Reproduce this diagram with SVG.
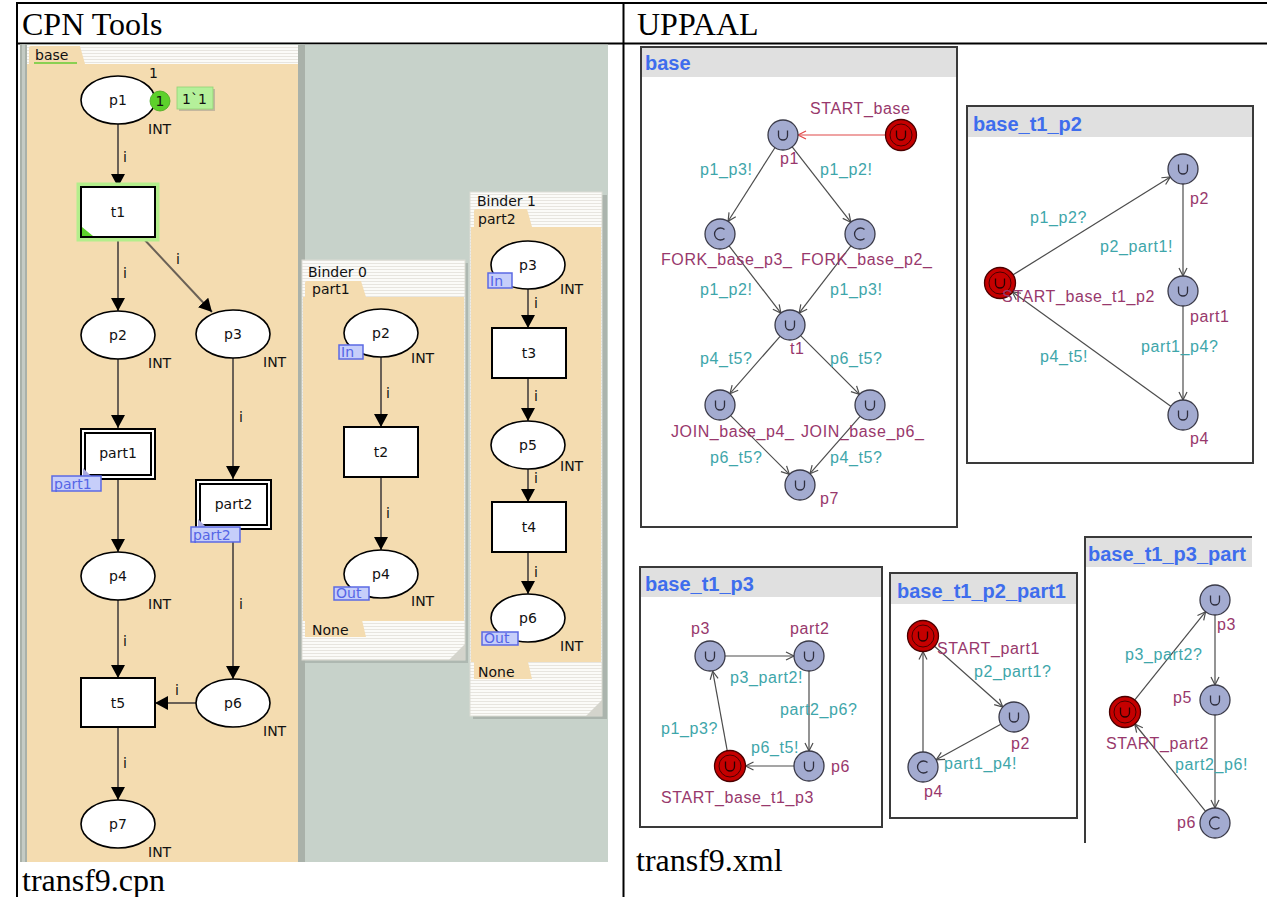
<svg xmlns="http://www.w3.org/2000/svg" width="1267" height="897" viewBox="0 0 1267 897">
<defs>
  <style>
    .rule { stroke:#000; stroke-width:2; fill:none }
    .hdr { font-family:"Liberation Serif","Times New Roman",serif; font-size:32px; fill:#000 }
    .cpn { font-family:"DejaVu Sans",Verdana,sans-serif; font-size:14px; fill:#111 }
    .mid { text-anchor:middle }
    .place { fill:#fff; stroke:#000; stroke-width:1.6 }
    .trans { fill:#fff; stroke:#000; stroke-width:2 }
    .arc { fill:none; stroke:#6a6156; stroke-width:2; marker-end:url(#cpnHead) }
    .tag { fill:#c6cefa; stroke:#5b69e3; stroke-width:1.5 }
    .tagtxt { font-family:"DejaVu Sans",Verdana,sans-serif; font-size:14px; fill:#5565e6 }
    .beige { fill:#f4dcb0 }
    .strip { fill:url(#stripes) }
    .loc { fill:#a3abd0; stroke:#3a3a48; stroke-width:1.3 }
    .init { fill:#c50000; stroke:#4a0000; stroke-width:1.3 }
    .ring { fill:none; stroke:#4a0000; stroke-width:1 }
    .glyph { fill:none; stroke:#2e2e3e; stroke-width:1.3 }
    .edge { fill:none; stroke:#4c4c4c; stroke-width:1.2; marker-end:url(#open) }
    .ux { font-family:"Liberation Sans",Arial,sans-serif; font-size:16px; letter-spacing:0.6px }
    .name { fill:#98386c }
    .sync { fill:#3ea6aa }
    .panel { fill:#fff; stroke:#3a3a3a; stroke-width:2 }
    .bar { fill:#e0e0e0 }
    .ptitle { font-family:"Liberation Sans",Arial,sans-serif; font-weight:bold; font-size:20px; fill:#3e6ded }
  </style>
  <pattern id="stripes" width="6" height="3" patternUnits="userSpaceOnUse">
    <rect width="6" height="3" fill="#fbfbf8"/>
    <rect y="2" width="6" height="1" fill="#e7e5df"/>
  </pattern>
  <marker id="cpnHead" viewBox="0 0 13 14" refX="13" refY="7" markerWidth="13" markerHeight="14" markerUnits="userSpaceOnUse" orient="auto">
    <path d="M0,0 L13,7 L0,14 Z" fill="#000"/>
  </marker>
  <marker id="open" viewBox="-10 -6 12 12" refX="0" refY="0" markerWidth="12" markerHeight="12" markerUnits="userSpaceOnUse" orient="auto">
    <path d="M-8,-4 L0,0 L-8,4" fill="none" stroke="#4c4c4c" stroke-width="1.2"/>
  </marker>
  <marker id="openRed" viewBox="-10 -6 12 12" refX="0" refY="0" markerWidth="12" markerHeight="12" markerUnits="userSpaceOnUse" orient="auto">
    <path d="M-8,-4 L0,0 L-8,4" fill="none" stroke="#e04848" stroke-width="1.2"/>
  </marker>
  <g id="locU">
    <circle r="15" class="loc"/>
    <path class="glyph" d="M-4.5,-4.5 V0.5 A4.5,4.5 0 0 0 4.5,0.5 V-4.5"/>
  </g>
  <g id="locC">
    <circle r="15" class="loc"/>
    <path class="glyph" d="M4.5,-4.5 A6,6 0 1 0 4.5,4.5"/>
  </g>
  <g id="locInit">
    <circle r="15.5" class="init"/>
    <circle r="11" class="ring"/>
    <path class="glyph" style="stroke:#2a0000" d="M-4.5,-4.5 V0.5 A4.5,4.5 0 0 0 4.5,0.5 V-4.5"/>
  </g>
  <clipPath id="clipLast">
    <rect x="1080" y="530" width="172" height="313"/>
  </clipPath>
</defs>

<rect width="1267" height="897" fill="#fff"/>

<!-- table -->
<g id="table">
  <line class="rule" x1="16" y1="3" x2="1267" y2="3"/>
  <line class="rule" x1="16" y1="43.5" x2="1267" y2="43.5"/>
  <line class="rule" x1="17" y1="2" x2="17" y2="897"/>
  <line class="rule" x1="623.5" y1="2" x2="623.5" y2="897"/>
  <text class="hdr" x="22" y="35">CPN Tools</text>
  <text class="hdr" x="637" y="35">UPPAAL</text>
  <text class="hdr" x="22" y="891">transf9.cpn</text>
  <text class="hdr" x="636" y="871">transf9.xml</text>
</g>

<!-- CPN Tools workspace -->
<g id="cpn-workspace">
  <rect x="20" y="44.5" width="588" height="817.5" fill="#c7d2ca"/>
  <rect x="20" y="44.5" width="285" height="817.5" fill="#a9b1a9"/>
  <rect x="22" y="44.5" width="3" height="817.5" fill="#c4cbc4"/>
  <rect x="27" y="45" width="271" height="817" class="beige"/>
  <rect x="27" y="45" width="271" height="19" class="strip"/>
  <path d="M29,64 V48 Q29,46 31,46 H80 L85,64 Z" class="beige"/>
  <line x1="34" y1="63" x2="77" y2="63" stroke="#66cc33" stroke-width="1.5"/>
  <text x="35" y="60" class="cpn">base</text>
</g>

<g id="binder0">
  <rect x="305" y="263" width="163" height="400" fill="#000" opacity="0.12"/>
  <rect x="302" y="260" width="163" height="400" class="strip" stroke="#dcdcd4" stroke-width="1"/>
  <rect x="303" y="297" width="161" height="324" class="beige"/>
  <path d="M305,297 V283 Q305,281 307,281 H361 L366,297 Z" class="beige"/>
  <path d="M305,620 V637 H366 L362,620 Z" class="beige"/>
  <polygon points="465,644 465,660 449,660" fill="#d4d4cc"/>
  <text x="308" y="277" class="cpn">Binder 0</text>
  <text x="312" y="294" class="cpn">part1</text>
  <text x="312" y="635" class="cpn">None</text>
</g>

<g id="binder1">
  <rect x="473" y="195" width="134" height="524" fill="#000" opacity="0.14"/>
  <rect x="470" y="192" width="132" height="524" class="strip" stroke="#dcdcd4" stroke-width="1"/>
  <rect x="471" y="227" width="130" height="435" class="beige"/>
  <path d="M474,227 V211 Q474,209 476,209 H527 L532,227 Z" class="beige"/>
  <path d="M474,662 V679 H532 L528,662 Z" class="beige"/>
  <polygon points="602,700 602,716 586,716" fill="#d4d4cc"/>
  <text x="477" y="206" class="cpn">Binder 1</text>
  <text x="478" y="224" class="cpn">part2</text>
  <text x="478" y="677" class="cpn">None</text>
</g>

<!-- UPPAAL template panels -->
<g id="tpl-base">
  <rect x="641" y="47" width="316" height="480" class="panel"/>
  <rect x="642" y="48" width="314" height="29" class="bar"/>
  <text x="645" y="70" class="ptitle">base</text>
</g>
<g id="tpl-base_t1_p2">
  <rect x="967" y="106" width="286" height="357" class="panel"/>
  <rect x="968" y="107" width="284" height="30" class="bar"/>
  <text x="973" y="131" class="ptitle">base_t1_p2</text>
</g>
<g id="tpl-base_t1_p3">
  <rect x="640" y="567" width="242" height="260" class="panel"/>
  <rect x="641" y="568" width="240" height="29" class="bar"/>
  <text x="645" y="591" class="ptitle">base_t1_p3</text>
</g>
<g id="tpl-base_t1_p2_part1">
  <rect x="890" y="573" width="187" height="245" class="panel"/>
  <rect x="891" y="574" width="185" height="30" class="bar"/>
  <text x="897" y="598" class="ptitle">base_t1_p2_part1</text>
</g>
<g id="tpl-base_t1_p3_part2" clip-path="url(#clipLast)">
  <rect x="1085" y="537" width="200" height="340" class="panel"/>
  <rect x="1086" y="538" width="198" height="29" class="bar"/>
  <text x="1088" y="561" class="ptitle">base_t1_p3_part</text>
</g>

<!-- arcs and edges -->
<g id="connectors">
  <!-- CPN page base -->
  <path class="arc" d="M118,124 V187"/>
  <path class="arc" d="M118,237 V311"/>
  <path class="arc" d="M142,237 L212,312"/>
  <path class="arc" d="M118,359 V428"/>
  <path class="arc" d="M233,358 V479"/>
  <path class="arc" d="M118,479 V552"/>
  <path class="arc" d="M233,529 V679"/>
  <path class="arc" d="M118,600 V678"/>
  <path class="arc" d="M196,703 H155"/>
  <path class="arc" d="M118,727 V800"/>
  <g class="cpn">
    <text x="123" y="162">i</text>
    <text x="123" y="278">i</text>
    <text x="176" y="264">i</text>
    <text x="239" y="422">i</text>
    <text x="123" y="646">i</text>
    <text x="239" y="609">i</text>
    <text x="175" y="695">i</text>
    <text x="123" y="768">i</text>
  </g>
  <!-- CPN page part1 -->
  <path class="arc" d="M381,357 V427"/>
  <path class="arc" d="M381,477 V550"/>
  <g class="cpn">
    <text x="386" y="398">i</text>
    <text x="386" y="518">i</text>
  </g>
  <!-- CPN page part2 -->
  <path class="arc" d="M528,289 V328"/>
  <path class="arc" d="M528,378 V421"/>
  <path class="arc" d="M528,469 V502"/>
  <path class="arc" d="M528,552 V594"/>
  <g class="cpn">
    <text x="534" y="308">i</text>
    <text x="534" y="401">i</text>
    <text x="534" y="483">i</text>
    <text x="534" y="577">i</text>
  </g>

  <!-- template base -->
  <path d="M885.5,135 H798" fill="none" stroke="#e04848" stroke-width="1.2" marker-end="url(#openRed)"/>
  <path class="edge" d="M774.9,147.7 L728.1,221.3"/>
  <path class="edge" d="M792.2,146.8 L850.8,222.2"/>
  <path class="edge" d="M729.1,245.9 L780.9,313.1"/>
  <path class="edge" d="M850.9,245.9 L799.1,313.1"/>
  <path class="edge" d="M780.1,336.3 L729.9,393.7"/>
  <path class="edge" d="M800.6,335.6 L859.4,394.4"/>
  <path class="edge" d="M730.6,415.6 L789.4,474.4"/>
  <path class="edge" d="M860.1,416.3 L809.9,473.7"/>
  <g class="ux sync">
    <text x="700" y="175">p1_p3!</text>
    <text x="820" y="175">p1_p2!</text>
    <text x="700" y="295">p1_p2!</text>
    <text x="830" y="295">p1_p3!</text>
    <text x="700" y="364">p4_t5?</text>
    <text x="830" y="364">p6_t5?</text>
    <text x="710" y="463">p6_t5?</text>
    <text x="830" y="463">p4_t5?</text>
  </g>

  <!-- template base_t1_p2 -->
  <path class="edge" d="M1012.7,275.1 L1170.3,176.9"/>
  <path class="edge" d="M1183,184 V276"/>
  <path class="edge" d="M1183,306 V400"/>
  <path class="edge" d="M1170.8,406.2 L1012.2,291.8"/>
  <g class="ux sync">
    <text x="1030" y="223">p1_p2?</text>
    <text x="1100" y="252">p2_part1!</text>
    <text x="1141" y="352">part1_p4?</text>
    <text x="1040" y="362">p4_t5!</text>
  </g>

  <!-- template base_t1_p3 -->
  <path class="edge" d="M725,656 H794"/>
  <path class="edge" d="M809,671 V751"/>
  <path class="edge" d="M794,766 H745.5"/>
  <path class="edge" d="M727.3,751.2 L712.7,671.2"/>
  <g class="ux sync">
    <text x="730" y="683">p3_part2!</text>
    <text x="780" y="715">part2_p6?</text>
    <text x="661" y="734">p1_p3?</text>
    <text x="751" y="753">p6_t5!</text>
  </g>

  <!-- template base_t1_p2_part1 -->
  <path class="edge" d="M934.2,646 L1002.8,707"/>
  <path class="edge" d="M1000.8,724.2 L936.2,759.8"/>
  <path class="edge" d="M923,752 V651.5"/>
  <g class="ux sync">
    <text x="974" y="677">p2_part1?</text>
    <text x="944" y="769">part1_p4!</text>
  </g>

  <!-- template base_t1_p3_part2 -->
  <path class="edge" d="M1134.4,700.3 L1205.6,611.7"/>
  <path class="edge" d="M1215,615 V685"/>
  <path class="edge" d="M1215,715 V808"/>
  <path class="edge" d="M1205.6,811.3 L1134.7,724"/>
  <g class="ux sync">
    <text x="1125" y="660">p3_part2?</text>
    <text x="1175" y="770">part2_p6!</text>
  </g>
</g>

<!-- CPN page base: places and transitions -->
<g id="base-p1">
  <ellipse cx="118" cy="100" rx="37" ry="24" class="place"/>
  <text x="118" y="105" class="cpn mid">p1</text>
  <text x="149" y="78" class="cpn">1</text>
  <text x="148" y="134" class="cpn">INT</text>
  <circle cx="160" cy="101" r="10" fill="#5dd12b" stroke="#46a81e" stroke-width="0.8"/>
  <text x="160" y="106" class="cpn mid">1</text>
  <rect x="179" y="89" width="36" height="22" fill="#8a8a8a" opacity="0.45"/>
  <rect x="177" y="87" width="36" height="22" fill="#b5f09a" stroke="#92d274" stroke-width="0.8"/>
  <text x="182" y="104" class="cpn">1`1</text>
</g>
<g id="base-t1">
  <rect x="78.5" y="184.5" width="79" height="55" fill="none" stroke="#b4ee8c" stroke-width="4"/>
  <rect x="81" y="187" width="74" height="50" class="trans"/>
  <polygon points="82,236 82,227 93,236" fill="#5dd12b"/>
  <text x="118" y="217" class="cpn mid">t1</text>
</g>
<g id="base-p2">
  <ellipse cx="118" cy="335" rx="37" ry="24" class="place"/>
  <text x="118" y="340" class="cpn mid">p2</text>
  <text x="148" y="368" class="cpn">INT</text>
</g>
<g id="base-p3">
  <ellipse cx="233" cy="334" rx="37" ry="24" class="place"/>
  <text x="233" y="339" class="cpn mid">p3</text>
  <text x="263" y="367" class="cpn">INT</text>
</g>
<g id="base-part1">
  <rect x="81" y="429" width="74" height="50" class="trans"/>
  <rect x="85" y="433" width="66" height="42" fill="none" stroke="#000" stroke-width="2"/>
  <text x="118" y="458" class="cpn mid">part1</text>
  <polygon points="83,468 83,476 91,476" fill="#a9a9de"/>
  <rect x="52" y="476" width="49" height="15" class="tag"/>
  <text x="54" y="489" class="tagtxt">part1</text>
</g>
<g id="base-part2">
  <rect x="196" y="480" width="75" height="49" class="trans"/>
  <rect x="200" y="484" width="67" height="41" fill="none" stroke="#000" stroke-width="2"/>
  <text x="233.5" y="509" class="cpn mid">part2</text>
  <polygon points="198,519 198,527 206,527" fill="#a9a9de"/>
  <rect x="191" y="527" width="49" height="15" class="tag"/>
  <text x="193" y="540" class="tagtxt">part2</text>
</g>
<g id="base-p4">
  <ellipse cx="118" cy="576" rx="37" ry="24" class="place"/>
  <text x="118" y="581" class="cpn mid">p4</text>
  <text x="148" y="609" class="cpn">INT</text>
</g>
<g id="base-t5">
  <rect x="81" y="678" width="74" height="49" class="trans"/>
  <text x="118" y="708" class="cpn mid">t5</text>
</g>
<g id="base-p6">
  <ellipse cx="233" cy="703" rx="37" ry="24" class="place"/>
  <text x="233" y="708" class="cpn mid">p6</text>
  <text x="263" y="736" class="cpn">INT</text>
</g>
<g id="base-p7">
  <ellipse cx="118" cy="824" rx="37" ry="24" class="place"/>
  <text x="118" y="829" class="cpn mid">p7</text>
  <text x="148" y="857" class="cpn">INT</text>
</g>

<!-- CPN page part1 -->
<g id="part1-p2">
  <ellipse cx="381" cy="333" rx="37" ry="24" class="place"/>
  <text x="381" y="338" class="cpn mid">p2</text>
  <text x="411" y="363" class="cpn">INT</text>
  <rect x="339" y="345" width="24" height="14" class="tag"/>
  <text x="341" y="357" class="tagtxt">In</text>
</g>
<g id="part1-t2">
  <rect x="344" y="427" width="74" height="50" class="trans"/>
  <text x="381" y="457" class="cpn mid">t2</text>
</g>
<g id="part1-p4">
  <ellipse cx="381" cy="574" rx="37" ry="24" class="place"/>
  <text x="381" y="579" class="cpn mid">p4</text>
  <text x="411" y="606" class="cpn">INT</text>
  <rect x="334" y="587" width="35" height="13" class="tag"/>
  <text x="336" y="598" class="tagtxt">Out</text>
</g>

<!-- CPN page part2 -->
<g id="part2-p3">
  <ellipse cx="528" cy="265" rx="37" ry="24" class="place"/>
  <text x="528" y="270" class="cpn mid">p3</text>
  <text x="560" y="294" class="cpn">INT</text>
  <rect x="488" y="273" width="24" height="15" class="tag"/>
  <text x="490" y="286" class="tagtxt">In</text>
</g>
<g id="part2-t3">
  <rect x="492" y="328" width="74" height="50" class="trans"/>
  <text x="529" y="358" class="cpn mid">t3</text>
</g>
<g id="part2-p5">
  <ellipse cx="528" cy="445" rx="37" ry="24" class="place"/>
  <text x="528" y="450" class="cpn mid">p5</text>
  <text x="560" y="471" class="cpn">INT</text>
</g>
<g id="part2-t4">
  <rect x="492" y="502" width="74" height="50" class="trans"/>
  <text x="529" y="532" class="cpn mid">t4</text>
</g>
<g id="part2-p6">
  <ellipse cx="528" cy="618" rx="37" ry="24" class="place"/>
  <text x="528" y="623" class="cpn mid">p6</text>
  <text x="560" y="651" class="cpn">INT</text>
  <rect x="482" y="632" width="36" height="13" class="tag"/>
  <text x="484" y="643" class="tagtxt">Out</text>
</g>

<!-- template base: locations -->
<g id="base-loc-START_base"><use href="#locInit" x="901" y="135"/><text x="810" y="114" class="ux name">START_base</text></g>
<g id="base-loc-p1"><use href="#locU" x="783" y="135"/><text x="780" y="164" class="ux name">p1</text></g>
<g id="base-loc-FORK_p3"><use href="#locC" x="720" y="234"/><text x="661" y="265" class="ux name">FORK_base_p3_</text></g>
<g id="base-loc-FORK_p2"><use href="#locC" x="860" y="234"/><text x="801" y="265" class="ux name">FORK_base_p2_</text></g>
<g id="base-loc-t1"><use href="#locU" x="790" y="325"/><text x="790" y="354" class="ux name">t1</text></g>
<g id="base-loc-JOIN_p4"><use href="#locU" x="720" y="405"/><text x="671" y="437" class="ux name">JOIN_base_p4_</text></g>
<g id="base-loc-JOIN_p6"><use href="#locU" x="870" y="405"/><text x="801" y="437" class="ux name">JOIN_base_p6_</text></g>
<g id="base-loc-p7"><use href="#locU" x="800" y="485"/><text x="820" y="504" class="ux name">p7</text></g>

<!-- template base_t1_p2: locations -->
<g id="t1p2-loc-START"><use href="#locInit" x="1000" y="283"/><text x="1002" y="302" class="ux name">START_base_t1_p2</text></g>
<g id="t1p2-loc-p2"><use href="#locU" x="1183" y="169"/><text x="1190" y="204" class="ux name">p2</text></g>
<g id="t1p2-loc-part1"><use href="#locU" x="1183" y="291"/><text x="1190" y="322" class="ux name">part1</text></g>
<g id="t1p2-loc-p4"><use href="#locU" x="1183" y="415"/><text x="1190" y="444" class="ux name">p4</text></g>

<!-- template base_t1_p3: locations -->
<g id="t1p3-loc-p3"><use href="#locU" x="710" y="656"/><text x="691" y="634" class="ux name">p3</text></g>
<g id="t1p3-loc-part2"><use href="#locU" x="809" y="656"/><text x="790" y="634" class="ux name">part2</text></g>
<g id="t1p3-loc-p6"><use href="#locU" x="809" y="766"/><text x="831" y="772" class="ux name">p6</text></g>
<g id="t1p3-loc-START"><use href="#locInit" x="730" y="766"/><text x="661" y="803" class="ux name">START_base_t1_p3</text></g>

<!-- template base_t1_p2_part1: locations -->
<g id="part1-loc-START"><use href="#locInit" x="923" y="636"/><text x="937" y="654" class="ux name">START_part1</text></g>
<g id="part1-loc-p2"><use href="#locU" x="1014" y="717"/><text x="1011" y="749" class="ux name">p2</text></g>
<g id="part1-loc-p4"><use href="#locC" x="923" y="767"/><text x="924" y="797" class="ux name">p4</text></g>

<!-- template base_t1_p3_part2: locations -->
<g id="part2-loc-p3"><use href="#locU" x="1215" y="600"/><text x="1217" y="630" class="ux name">p3</text></g>
<g id="part2-loc-p5"><use href="#locU" x="1215" y="700"/><text x="1173" y="703" class="ux name">p5</text></g>
<g id="part2-loc-p6"><use href="#locC" x="1215" y="823"/><text x="1177" y="828" class="ux name">p6</text></g>
<g id="part2-loc-START"><use href="#locInit" x="1125" y="712"/><text x="1106" y="749" class="ux name">START_part2</text></g>
</svg>
